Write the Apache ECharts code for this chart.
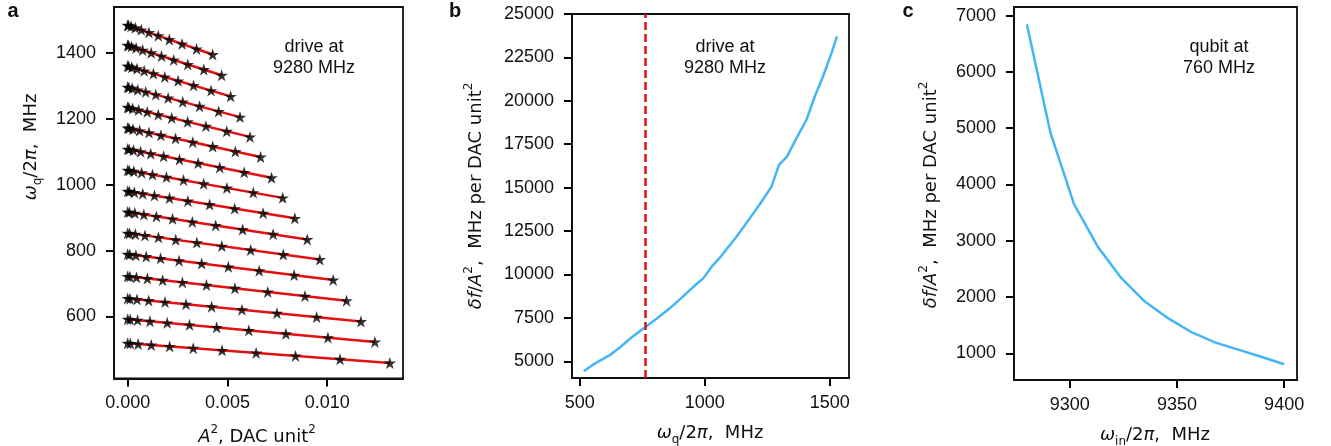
<!DOCTYPE html>
<html>
<head>
<meta charset="utf-8">
<script src="https://cdn.jsdelivr.net/npm/echarts@6/dist/echarts.min.js"></script>
<style>
html,body{margin:0;padding:0;background:#fff;}
#chart{width:1331px;height:446px;}
</style>
</head>
<body>
<div id="chart"></div>
<script>
// ---------- Panel a: qubit frequency vs drive power A^2 ----------
const lineA2 = [
  [0, 0.0000426, 0.000170, 0.000383, 0.000682, 0.001065, 0.001534, 0.002087, 0.002726, 0.003451, 0.00426],
  [0, 0.0000471, 0.000188, 0.000424, 0.000754, 0.001178, 0.001696, 0.002308, 0.003014, 0.003815, 0.00471],
  [0, 0.0000516, 0.000206, 0.000464, 0.000826, 0.001290, 0.001858, 0.002528, 0.003302, 0.004180, 0.00516],
  [0, 0.0000563, 0.000225, 0.000507, 0.000901, 0.001408, 0.002027, 0.002759, 0.003603, 0.004560, 0.00563],
  [0, 0.0000613, 0.000245, 0.000552, 0.000981, 0.001533, 0.002207, 0.003004, 0.003923, 0.004965, 0.00613],
  [0, 0.0000666, 0.000266, 0.000599, 0.001066, 0.001665, 0.002398, 0.003263, 0.004262, 0.005395, 0.00666],
  [0, 0.0000721, 0.000288, 0.000649, 0.001154, 0.001803, 0.002596, 0.003533, 0.004614, 0.005840, 0.00721],
  [0, 0.0000777, 0.000311, 0.000699, 0.001243, 0.001943, 0.002797, 0.003807, 0.004973, 0.006294, 0.00777],
  [0, 0.0000838, 0.000335, 0.000754, 0.001341, 0.002095, 0.003017, 0.004106, 0.005363, 0.006788, 0.00838],
  [0, 0.0000900, 0.000360, 0.000810, 0.001440, 0.002250, 0.003240, 0.004410, 0.005760, 0.007290, 0.00900],
  [0, 0.0000963, 0.000385, 0.000867, 0.001541, 0.002408, 0.003467, 0.004719, 0.006163, 0.007800, 0.00963],
  [0, 0.0001030, 0.000412, 0.000927, 0.001648, 0.002575, 0.003708, 0.005047, 0.006592, 0.008343, 0.01030],
  [0, 0.0001100, 0.000439, 0.000987, 0.001755, 0.002743, 0.003949, 0.005375, 0.007021, 0.008886, 0.01097],
  [0, 0.0001170, 0.000468, 0.001052, 0.001870, 0.002923, 0.004208, 0.005728, 0.007482, 0.009469, 0.01169],
  [0, 0.0001240, 0.000496, 0.001115, 0.001982, 0.003098, 0.004460, 0.006071, 0.007930, 0.010036, 0.01239],
  [0, 0.0001310, 0.000526, 0.001183, 0.002102, 0.003285, 0.004730, 0.006439, 0.008410, 0.010643, 0.01314]
];
const lineFreq = [
  [1484, 1483.1, 1480.4, 1476.0, 1469.8, 1461.8, 1452.0, 1440.4, 1427.0, 1411.9, 1395],
  [1423, 1422.1, 1419.4, 1414.8, 1408.4, 1400.3, 1390.2, 1378.4, 1364.8, 1349.3, 1332],
  [1360, 1359.1, 1356.3, 1351.7, 1345.3, 1337.0, 1326.9, 1314.9, 1301.1, 1285.5, 1268],
  [1296, 1295.1, 1292.4, 1287.8, 1281.4, 1273.3, 1263.2, 1251.4, 1237.8, 1222.3, 1205],
  [1235, 1234.1, 1231.4, 1226.9, 1220.6, 1212.5, 1202.6, 1190.9, 1177.4, 1162.1, 1145],
  [1172, 1171.1, 1168.5, 1164.1, 1157.9, 1150.0, 1140.3, 1128.9, 1115.7, 1100.7, 1084],
  [1108, 1107.1, 1104.5, 1100.2, 1094.1, 1086.3, 1076.7, 1065.4, 1052.3, 1037.5, 1021],
  [1044, 1043.2, 1040.6, 1036.4, 1030.6, 1023.0, 1013.8, 1002.8, 990.2, 976.0, 960],
  [980, 979.2, 976.7, 972.6, 966.9, 959.5, 950.5, 939.8, 927.5, 913.6, 898],
  [917, 916.2, 913.7, 909.5, 903.7, 896.3, 887.1, 876.3, 863.9, 849.8, 834],
  [853, 852.2, 849.8, 845.8, 840.2, 833.0, 824.2, 813.8, 801.8, 788.2, 773],
  [789, 788.2, 785.9, 782.0, 776.5, 769.5, 760.9, 750.8, 739.1, 725.8, 711],
  [722, 721.3, 719.0, 715.3, 710.2, 703.5, 695.4, 685.7, 674.6, 662.1, 648],
  [655, 654.3, 652.2, 648.7, 643.8, 637.5, 629.8, 620.7, 610.2, 598.3, 585],
  [592, 591.3, 589.2, 585.8, 581.0, 574.8, 567.2, 558.2, 547.8, 536.1, 523],
  [519, 518.4, 516.6, 513.6, 509.4, 504.0, 497.4, 489.6, 480.6, 470.4, 459]
];
const aXTicks = [0, 0.005, 0.010];
const aYTicks = [600, 800, 1000, 1200, 1400];

// ---------- Panel b: shift per A^2 vs qubit frequency ----------
const bQubitFreq = [516, 560, 620, 660, 707, 756, 807, 860, 907, 967, 993, 1000, 1033, 1060, 1087, 1127, 1180, 1227, 1267, 1297, 1329, 1367, 1407, 1440, 1473, 1507, 1529];
const bShift = [4420, 4870, 5350, 5790, 6370, 6900, 7450, 8050, 8650, 9450, 9760, 9800, 10540, 10950, 11450, 12170, 13230, 14190, 15060, 16310, 16790, 17850, 18910, 20250, 21400, 22750, 23710];
const bMarker = 760;
const bXTicks = [500, 1000, 1500];
const bYTicks = [5000, 7500, 10000, 12500, 15000, 17500, 20000, 22500, 25000];

// ---------- Panel c: shift per A^2 vs drive frequency ----------
const cDriveFreq = [9280, 9291, 9302, 9313, 9324, 9335, 9346, 9357, 9368, 9379, 9390, 9400];
const cShift = [6850, 4920, 3650, 2900, 2340, 1920, 1620, 1370, 1190, 1060, 930, 805];
const cXTicks = [9300, 9350, 9400];
const cYTicks = [1000, 2000, 3000, 4000, 5000, 6000, 7000];

const FONT = 'Liberation Sans, Arial, Helvetica, sans-serif';
const MATHFONT = 'DejaVu Sans, sans-serif';
const BLUE = '#45b6f5';
const INK = '#111';
const STAR = 'path://M0 -1 L0.2245 -0.309 L0.951 -0.309 L0.363 0.118 L0.588 0.809 L0 0.382 L-0.588 0.809 L-0.363 0.118 L-0.951 -0.309 L-0.2245 -0.309 Z';

function xAxisCfg(idx, min, max, ticks, fmt) {
  return {
    type: 'value', gridIndex: idx, min: min, max: max,
    axisLine: {show: true, onZero: false, lineStyle: {color: INK, width: 1.8}},
    splitLine: {show: false},
    axisTick: {show: true, length: 8, customValues: ticks, lineStyle: {color: '#000', width: 2}},
    axisLabel: {show: true, customValues: ticks, margin: 16, fontSize: 18, fontFamily: FONT, color: INK,
      formatter: fmt || (v => String(v))}
  };
}
function yAxisCfg(idx, min, max, ticks) {
  return {
    type: 'value', gridIndex: idx, min: min, max: max,
    axisLine: {show: true, onZero: false, lineStyle: {color: INK, width: 1.8}},
    splitLine: {show: false},
    axisTick: {show: true, length: 8, customValues: ticks, lineStyle: {color: '#000', width: 2}},
    axisLabel: {show: true, customValues: ticks, margin: 18, fontSize: 18, fontFamily: FONT, color: INK,
      formatter: v => String(v)}
  };
}

const series = [];
// red fit lines
for (let i = 0; i < lineA2.length; i++) {
  const n = lineA2[i].length - 1;
  series.push({
    type: 'line', xAxisIndex: 0, yAxisIndex: 0, symbol: 'none', silent: true, z: 2,
    lineStyle: {color: '#e41010', width: 2.5},
    data: [[lineA2[i][0], lineFreq[i][0]], [lineA2[i][n], lineFreq[i][n]]]
  });
}
// star markers
const stars = [];
for (let i = 0; i < lineA2.length; i++) {
  for (let j = 0; j < lineA2[i].length; j++) stars.push([lineA2[i][j], lineFreq[i][j]]);
}
series.push({
  type: 'scatter', xAxisIndex: 0, yAxisIndex: 0, symbol: STAR, symbolSize: [12.5, 12], z: 3,
  itemStyle: {color: '#000'}, data: stars
});
// panel b
series.push({
  type: 'line', xAxisIndex: 1, yAxisIndex: 1, symbol: 'none', z: 2,
  lineStyle: {color: BLUE, width: 2.5},
  data: bQubitFreq.map((x, i) => [x, bShift[i]]),
  markLine: {
    silent: true, symbol: 'none', label: {show: false},
    lineStyle: {color: '#d7141c', width: 2.5, type: [8, 4]},
    data: [{xAxis: bMarker}]
  }
});
// panel c
series.push({
  type: 'line', xAxisIndex: 2, yAxisIndex: 2, symbol: 'none', z: 2,
  lineStyle: {color: BLUE, width: 2.5},
  data: cDriveFreq.map((x, i) => [x, cShift[i]])
});

const richBase = {
  n: {fontSize: 18, fontFamily: MATHFONT, lineHeight: 26, fill: INK},
  i: {fontSize: 18, fontFamily: MATHFONT, fontStyle: 'italic', lineHeight: 26, fill: INK},
  sup: {fontSize: 12, fontFamily: MATHFONT, lineHeight: 16, verticalAlign: 'top', fill: INK},
  sub: {fontSize: 12, fontFamily: MATHFONT, lineHeight: 14, verticalAlign: 'bottom', fill: INK}
};
function mathText(x, y, text, rot) {
  return {
    type: 'text', x: x, y: y, rotation: rot || 0, silent: true,
    style: {text: text, rich: richBase, align: 'center', verticalAlign: 'middle',
      fontSize: 18, fontFamily: MATHFONT, fill: INK}
  };
}
function plainText(x, y, text, opts) {
  return {
    type: 'text', x: x, y: y, silent: true,
    style: Object.assign({text: text, align: 'center', verticalAlign: 'middle', fontSize: 18,
      fontFamily: FONT, fill: INK, lineHeight: 21.6}, opts || {})
  };
}

const graphic = [
  plainText(13, 11, 'a', {fontWeight: 'bold', fontSize: 20}),
  plainText(455, 11, 'b', {fontWeight: 'bold', fontSize: 20}),
  plainText(908, 11, 'c', {fontWeight: 'bold', fontSize: 20}),
  plainText(314, 57.5, 'drive at\n9280 MHz'),
  plainText(725, 57.5, 'drive at\n9280 MHz'),
  plainText(1219, 57.5, 'qubit at\n760 MHz'),
  mathText(257, 437, '{i|A}{sup|2}{n|, DAC unit}{sup|2}'),
  mathText(31, 147, '{i|ω}{sub|q}{n|/2}{i|π}{n|,  MHz}', Math.PI / 2),
  mathText(710, 433, '{i|ω}{sub|q}{n|/2}{i|π}{n|,  MHz}'),
  mathText(1155, 435, '{i|ω}{sub|in}{n|/2}{i|π}{n|,  MHz}'),
  mathText(476, 196, '{i|δf}{n|/}{i|A}{sup|2}{n|,  MHz per DAC unit}{sup|2}', Math.PI / 2),
  mathText(931, 195, '{i|δf}{n|/}{i|A}{sup|2}{n|,  MHz per DAC unit}{sup|2}', Math.PI / 2)
];

const gridStyle = {show: true, borderColor: INK, borderWidth: 1.8, backgroundColor: 'transparent'};
const option = {
  animation: false,
  backgroundColor: '#fff',
  grid: [
    Object.assign({left: 114, top: 7, width: 289, height: 371.5}, gridStyle),
    Object.assign({left: 572, top: 14, width: 277, height: 364}, gridStyle),
    Object.assign({left: 1014, top: 7, width: 283, height: 373}, gridStyle)
  ],
  xAxis: [
    xAxisCfg(0, -0.000686, 0.0138, aXTicks, v => v.toFixed(3)),
    xAxisCfg(1, 469, 1577, bXTicks),
    xAxisCfg(2, 9274, 9406, cXTicks)
  ],
  yAxis: [
    yAxisCfg(0, 412, 1539, aYTicks),
    yAxisCfg(1, 4037, 25000, bYTicks),
    yAxisCfg(2, 525, 7155, cYTicks)
  ],
  series: series,
  graphic: graphic
};

const chart = echarts.init(document.getElementById('chart'), null, {renderer: 'canvas'});
chart.setOption(option);
</script>
</body>
</html>
